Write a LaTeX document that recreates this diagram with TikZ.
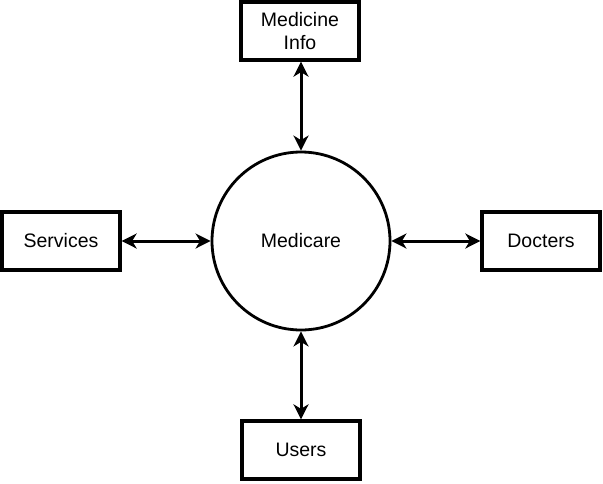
\documentclass[tikz,border=0pt]{standalone}
\usepackage{fontspec}
\setmainfont{Liberation Sans}
\usetikzlibrary{arrows.meta}
\begin{document}
\begin{tikzpicture}[x=1pt,y=-1pt,
  ent/.style={draw,line width=3.3pt,minimum width=118pt,minimum height=58pt,inner sep=0pt,align=center,font=\fontsize{19.5}{23}\selectfont},
  proc/.style={draw,circle,line width=2.8pt,minimum size=178pt,inner sep=0pt,font=\fontsize{19.5}{23}\selectfont},
  flow/.style={line width=3pt,{Stealth[length=15pt,width=15pt,inset=4.5pt]}-{Stealth[length=15pt,width=15pt,inset=4.5pt]}}]
\useasboundingbox (0,0) rectangle (603,483);
\node[proc] (m) at (301,241) {Medicare};
\node[ent] (mi) at (300,31) {Medicine\\Info};
\node[ent] (s) at (61,241) {Services};
\node[ent] (d) at (541,241) {Docters};
\node[ent] (u) at (301,450) {Users};
\draw[flow] (mi.south -| m.north) -- (m.north);
\draw[flow] (s.east) -- (m.west);
\draw[flow] (m.east) -- (d.west);
\draw[flow] (m.south) -- (u.north -| m.south);
\end{tikzpicture}
\end{document}
